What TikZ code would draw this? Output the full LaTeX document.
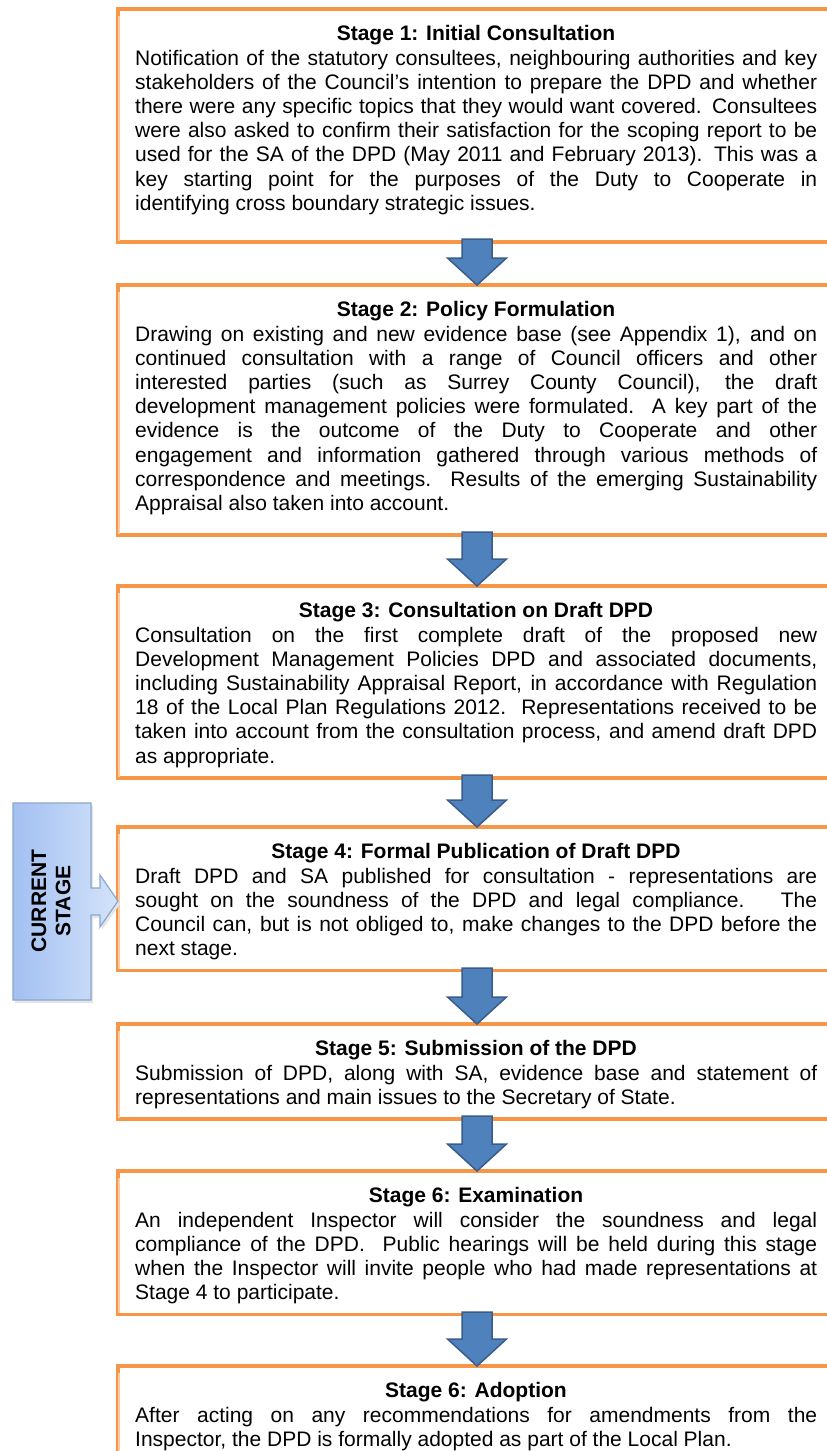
\documentclass[tikz,border=0pt]{standalone}
\usepackage{fontspec}
\setmainfont{Liberation Sans}
\usetikzlibrary{calc}
\definecolor{orng}{HTML}{F79646}
\definecolor{orngpale}{HTML}{FBCBA6}
\definecolor{arrowblue}{HTML}{4F81BD}
\definecolor{arrowedge}{HTML}{385D8A}
\definecolor{curL}{HTML}{A3C0F2}
\definecolor{curR}{HTML}{D3E3FA}
\definecolor{curedge}{HTML}{8AA6CE}
\newcommand{\bodyfnt}{\fontsize{21}{24.2}\selectfont}
\newcommand{\titlefnt}{\fontsize{21}{24.2}\selectfont\bfseries}
\tolerance=10000
\hyphenpenalty=10000
\exhyphenpenalty=10000
\tikzset{
  stagebox/.style={draw=orng, line width=3.5pt, fill=white, inner sep=0pt,
    minimum width=722pt, anchor=north west},
  paleline/.style={draw=orngpale, line width=1.2pt},
  stagetitle/.style={font=\titlefnt, inner sep=0pt, anchor=base},
  stagebody/.style={font=\bodyfnt, inner sep=0pt, text width=682pt,
    align=justify, anchor=north west},
  blockarrow/.style={fill=arrowblue, draw=arrowedge, line width=1.5pt, line join=miter},
}
\newcommand{\downarrowshape}[2]{%
  \path[blockarrow] (#2) -- ++(-29.5,-27) -- ++(14.5,0) -- ($(#1)+(-15,0)$)
    -- ++(30,0) -- ($(#2)+(15,-27)$) -- ++(14.5,0) -- cycle;}
\newcommand{\paleedge}[1]{%
  \draw[paleline] ($(#1.north west)+(3,9)$) -- ($(#1.south west)+(3,-3)$);}
\begin{document}
\begin{tikzpicture}[x=1pt,y=-1pt]
\useasboundingbox (0,0) rectangle (827,1451);
\clip (0,0) rectangle (827,1451);

% ---------- Stage 1
\node[stagebox, minimum height=233pt] (s1) at (116,7) {};
\paleedge{s1}
\node[stagetitle] (t1) at (476,40.5) {Stage 1: Initial Consultation};
\node[stagebody] (b1) at (135,48) {\strut Notification of the statutory consultees, neighbouring authorities and key\linebreak
stakeholders of the Council’s intention to prepare the DPD and whether\linebreak
there were any specific topics that they would want covered. Consultees\linebreak
were also asked to confirm their satisfaction for the scoping report to be\linebreak
used for the SA of the DPD (May 2011 and February 2013). This was a\linebreak
key starting point for the purposes of the Duty to Cooperate in\linebreak
identifying cross boundary strategic issues.};

% ---------- Stage 2
\node[stagebox, minimum height=250.4pt] (s2) at (116,283) {};
\paleedge{s2}
\node[stagetitle] (t2) at (476,316.5) {Stage 2: Policy Formulation};
\node[stagebody] (b2) at (135,324) {\strut Drawing on existing and new evidence base (see Appendix 1), and on\linebreak
continued consultation with a range of Council officers and other\linebreak
interested parties (such as Surrey County Council), the draft\linebreak
development management policies were formulated.\ \ A key part of the\linebreak
evidence is the outcome of the Duty to Cooperate and other\linebreak
engagement and information gathered through various methods of\linebreak
correspondence and meetings.\ \ Results of the emerging Sustainability\linebreak
Appraisal also taken into account.};

% ---------- Stage 3
\node[stagebox, minimum height=192pt] (s3) at (116,584) {};
\paleedge{s3}
\node[stagetitle] (t3) at (476,617.5) {Stage 3: Consultation on Draft DPD};
\node[stagebody] (b3) at (135,625) {\strut Consultation on the first complete draft of the proposed new\linebreak
Development Management Policies DPD and associated documents,\linebreak
including Sustainability Appraisal Report, in accordance with Regulation\linebreak
18 of the Local Plan Regulations 2012.\ \ Representations received to be\linebreak
taken into account from the consultation process, and amend draft DPD\linebreak
as appropriate.};

% ---------- Stage 4
\node[stagebox, minimum height=143.6pt] (s4) at (116,825) {};
\paleedge{s4}
\node[stagetitle] (t4) at (476,858.5) {Stage 4: Formal Publication of Draft DPD};
\node[stagebody] (b4) at (135,866) {\strut Draft DPD and SA published for consultation - representations are\linebreak
sought on the soundness of the DPD and legal compliance.\ \ \ The\linebreak
Council can, but is not obliged to, make changes to the DPD before the\linebreak
next stage.};

% ---------- Stage 5
\node[stagebox, minimum height=95.2pt] (s5) at (116,1022) {};
\paleedge{s5}
\node[stagetitle] (t5) at (476,1055.5) {Stage 5: Submission of the DPD};
\node[stagebody] (b5) at (135,1063) {\strut Submission of DPD, along with SA, evidence base and statement of\linebreak
representations and main issues to the Secretary of State.};

% ---------- Stage 6
\node[stagebox, minimum height=143.6pt] (s6) at (116,1169) {};
\paleedge{s6}
\node[stagetitle] (t6) at (476,1202.5) {Stage 6: Examination};
\node[stagebody] (b6) at (135,1210) {\strut An independent Inspector will consider the soundness and legal\linebreak
compliance of the DPD.\ \ Public hearings will be held during this stage\linebreak
when the Inspector will invite people who had made representations at\linebreak
Stage 4 to participate.};

% ---------- Stage 7
\node[stagebox, minimum height=150pt] (s7) at (116,1364) {};
\draw[paleline] ($(s7.north west)+(3,9)$) -- ++(0,100);
\node[stagetitle] (t7) at (476,1397.5) {Stage 6: Adoption};
\node[stagebody] (b7) at (135,1405) {\strut After acting on any recommendations for amendments from the\linebreak
Inspector, the DPD is formally adopted as part of the Local Plan.};

% ---------- block arrows
\coordinate (a1top) at (477,239);  \coordinate (a1tip) at (477,285);
\coordinate (a2top) at (477,532);  \coordinate (a2tip) at (477,586);
\coordinate (a3top) at (477,775);  \coordinate (a3tip) at (477,827);
\coordinate (a4top) at (477,968);  \coordinate (a4tip) at (477,1024);
\coordinate (a5top) at (477,1116); \coordinate (a5tip) at (477,1171);
\coordinate (a6top) at (477,1312); \coordinate (a6tip) at (477,1366);
\downarrowshape{a1top}{a1tip}
\downarrowshape{a2top}{a2tip}
\downarrowshape{a3top}{a3tip}
\downarrowshape{a4top}{a4tip}
\downarrowshape{a5top}{a5tip}
\downarrowshape{a6top}{a6tip}

% ---------- current stage callout
\path[fill=black!10] (15,806) -- (93,806) -- (93,891) -- (102,891) -- (102,878) -- (120,904)
  -- (102,930) -- (102,918) -- (93,918) -- (93,1003) -- (15,1003) -- cycle;
\path[draw=curedge, line width=1.2pt, left color=curL, right color=curR]
  (13,803) -- (91,803) -- (91,888) -- (100,888) -- (100,875) -- (118,901)
  -- (100,927) -- (100,915) -- (91,915) -- (91,1000) -- (13,1000) -- cycle;
\node[font=\titlefnt, rotate=90, align=center, inner sep=0pt] (cur) at (51,901) {CURRENT\\STAGE};
\end{tikzpicture}
\end{document}
